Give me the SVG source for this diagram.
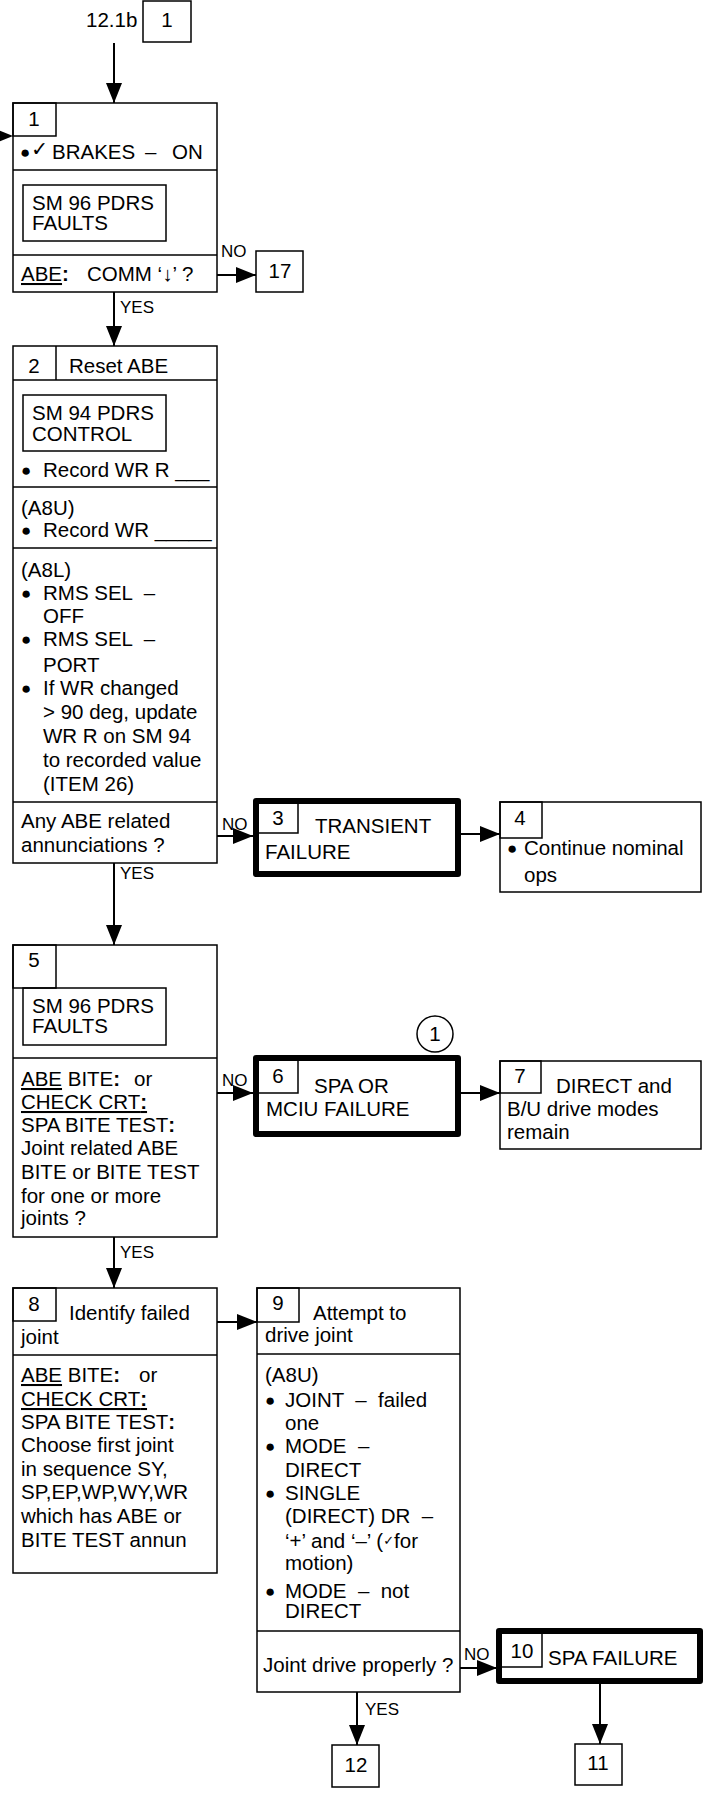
<svg xmlns="http://www.w3.org/2000/svg" width="703" height="1796" viewBox="0 0 703 1796">
<style>
text{font-family:"Liberation Sans",Arial,"DejaVu Sans",sans-serif;font-size:20.5px;fill:#000}
.c{text-anchor:middle}
.lb{font-size:17px}
.bl{font-size:17px}
.b{fill:none;stroke:#000;stroke-width:1.5}
.k{fill:none;stroke:#000;stroke-width:6;stroke-linejoin:round}
.w{fill:#fff;stroke:#000;stroke-width:1.5}
.ln{fill:none;stroke:#000;stroke-width:2}
.u{text-decoration:underline}
.bd{font-weight:bold}
.ck{font-family:"DejaVu Sans",sans-serif}
</style>
<defs>
<marker id="ah" markerUnits="userSpaceOnUse" markerWidth="20" markerHeight="16" refX="20" refY="8" orient="auto">
<path d="M0,0 L20,8 L0,16 z" fill="#000"/>
</marker>
</defs>

<g id="connectors">
<line class="ln" x1="114" y1="43" x2="114" y2="103" marker-end="url(#ah)"/>
<line class="ln" x1="0" y1="136" x2="6" y2="136"/>
<polygon points="-7,128 13,136 -7,144" fill="#000"/>
<line class="ln" x1="217" y1="275" x2="256" y2="275" marker-end="url(#ah)"/>
<line class="ln" x1="114" y1="292" x2="114" y2="346" marker-end="url(#ah)"/>
<line class="ln" x1="217" y1="836" x2="253" y2="836" marker-end="url(#ah)"/>
<line class="ln" x1="461" y1="834" x2="500" y2="834" marker-end="url(#ah)"/>
<line class="ln" x1="114" y1="863" x2="114" y2="945" marker-end="url(#ah)"/>
<line class="ln" x1="217" y1="1093" x2="253" y2="1093" marker-end="url(#ah)"/>
<line class="ln" x1="461" y1="1093" x2="500" y2="1093" marker-end="url(#ah)"/>
<line class="ln" x1="114" y1="1237" x2="114" y2="1288" marker-end="url(#ah)"/>
<line class="ln" x1="217" y1="1322" x2="257" y2="1322" marker-end="url(#ah)"/>
<line class="ln" x1="460" y1="1668" x2="497" y2="1668" marker-end="url(#ah)"/>
<line class="ln" x1="357" y1="1692" x2="357" y2="1745" marker-end="url(#ah)"/>
<line class="ln" x1="600" y1="1684" x2="600" y2="1744" marker-end="url(#ah)"/>
<text class="lb" x="221" y="257">NO</text>
<text class="lb" x="120" y="313">YES</text>
<text class="lb" x="222" y="830">NO</text>
<text class="lb" x="120" y="879">YES</text>
<text class="lb" x="222" y="1086">NO</text>
<text class="lb" x="120" y="1258">YES</text>
<text class="lb" x="464" y="1660">NO</text>
<text class="lb" x="365" y="1715">YES</text>
</g>

<g id="start">
<text x="86" y="27">12.1b</text>
<rect class="b" x="143" y="1" width="48" height="41"/>
<text class="c" x="167" y="27">1</text>
</g>

<g id="box1">
<rect class="b" x="13" y="103" width="204" height="189"/>
<rect class="b" x="13" y="103" width="43" height="33"/>
<text class="c" x="34" y="126">1</text>
<text class="bl" x="20" y="158">●</text>
<text class="ck" x="31" y="156" font-size="15">✓</text>
<text x="52" y="159">BRAKES<tspan x="145">–</tspan><tspan x="172">ON</tspan></text>
<line class="b" x1="13" y1="170" x2="217" y2="170"/>
<rect class="b" x="23" y="185" width="143" height="56"/>
<text x="32" y="210">SM 96 PDRS</text>
<text x="32" y="230">FAULTS</text>
<line class="b" x1="13" y1="255" x2="217" y2="255"/>
<text x="21" y="281"><tspan class="u">ABE</tspan><tspan class="bd">:</tspan><tspan x="87">COMM ‘↓’ ?</tspan></text>
</g>

<g id="box17">
<rect class="b" x="256" y="251" width="47" height="41"/>
<text class="c" x="280" y="278">17</text>
</g>

<g id="box2">
<rect class="b" x="13" y="346" width="204" height="517"/>
<line class="b" x1="56" y1="346" x2="56" y2="380"/>
<text class="c" x="34" y="373">2</text>
<text x="69" y="373">Reset ABE</text>
<line class="b" x1="13" y1="380" x2="217" y2="380"/>
<rect class="b" x="23" y="395" width="143" height="56"/>
<text x="32" y="420">SM 94 PDRS</text>
<text x="32" y="441">CONTROL</text>
<text class="bl" x="21" y="476">●</text>
<text x="43" y="477" xml:space="preserve">Record WR R ___</text>
<line class="b" x1="13" y1="487" x2="217" y2="487"/>
<text x="21" y="515">(A8U)</text>
<text class="bl" x="21" y="536">●</text>
<text x="43" y="537" xml:space="preserve">Record WR _____</text>
<line class="b" x1="13" y1="548" x2="217" y2="548"/>
<text x="21" y="577">(A8L)</text>
<text class="bl" x="21" y="599">●</text>
<text x="43" y="600" xml:space="preserve">RMS SEL  –</text>
<text x="43" y="623">OFF</text>
<text class="bl" x="21" y="645">●</text>
<text x="43" y="646" xml:space="preserve">RMS SEL  –</text>
<text x="43" y="672">PORT</text>
<text class="bl" x="21" y="694">●</text>
<text x="43" y="695">If WR changed</text>
<text x="43" y="719">&gt; 90 deg, update</text>
<text x="43" y="743">WR R on SM 94</text>
<text x="43" y="767">to recorded value</text>
<text x="43" y="791">(ITEM 26)</text>
<line class="b" x1="13" y1="802" x2="217" y2="802"/>
<text x="21" y="828">Any ABE related</text>
<text x="21" y="852">annunciations ?</text>
</g>

<g id="box3">
<rect class="k" x="256" y="801" width="202" height="73"/>
<path class="b" d="M298,801 V833 H256"/>
<text class="c" x="278" y="825">3</text>
<text x="315" y="833">TRANSIENT</text>
<text x="265" y="859">FAILURE</text>
</g>

<g id="box4">
<rect class="b" x="500" y="802" width="201" height="90"/>
<rect class="b" x="500" y="802" width="42" height="36"/>
<text class="c" x="520" y="825">4</text>
<text class="bl" x="507" y="854">●</text>
<text x="524" y="855">Continue nominal</text>
<text x="524" y="882">ops</text>
</g>

<g id="box5">
<rect class="b" x="13" y="945" width="204" height="292"/>
<rect class="b" x="13" y="945" width="43" height="43"/>
<text class="c" x="34" y="967">5</text>
<rect class="b" x="23" y="988" width="143" height="57"/>
<text x="32" y="1013">SM 96 PDRS</text>
<text x="32" y="1033">FAULTS</text>
<line class="b" x1="13" y1="1058" x2="217" y2="1058"/>
<text x="21" y="1086"><tspan class="u">ABE</tspan> BITE<tspan class="bd">:</tspan><tspan x="134">or</tspan></text>
<text x="21" y="1109" class="u">CHECK CRT<tspan class="bd">:</tspan></text>
<text x="21" y="1132">SPA BITE TEST<tspan class="bd">:</tspan></text>
<text x="21" y="1155">Joint related ABE</text>
<text x="21" y="1179">BITE or BITE TEST</text>
<text x="21" y="1203">for one or more</text>
<text x="21" y="1225">joints ?</text>
</g>

<g id="box6">
<rect class="k" x="256" y="1058" width="202" height="76"/>
<path class="b" d="M298,1058 V1093 H256"/>
<text class="c" x="278" y="1083">6</text>
<text x="314" y="1093">SPA OR</text>
<text x="266" y="1116">MCIU FAILURE</text>
<circle class="w" cx="435" cy="1034" r="18"/>
<text class="c" x="435" y="1041">1</text>
</g>

<g id="box7">
<rect class="b" x="500" y="1061" width="201" height="88"/>
<rect class="b" x="500" y="1061" width="41" height="32"/>
<text class="c" x="520" y="1083">7</text>
<text x="556" y="1093">DIRECT and</text>
<text x="507" y="1116">B/U drive modes</text>
<text x="507" y="1139">remain</text>
</g>

<g id="box8">
<rect class="b" x="13" y="1288" width="204" height="285"/>
<rect class="b" x="13" y="1288" width="43" height="33"/>
<text class="c" x="34" y="1311">8</text>
<text x="69" y="1320">Identify failed</text>
<text x="21" y="1344">joint</text>
<line class="b" x1="13" y1="1355" x2="217" y2="1355"/>
<text x="21" y="1382"><tspan class="u">ABE</tspan> BITE<tspan class="bd">:</tspan><tspan x="139">or</tspan></text>
<text x="21" y="1406" class="u">CHECK CRT<tspan class="bd">:</tspan></text>
<text x="21" y="1429">SPA BITE TEST<tspan class="bd">:</tspan></text>
<text x="21" y="1452">Choose first joint</text>
<text x="21" y="1476">in sequence SY,</text>
<text x="21" y="1499">SP,EP,WP,WY,WR</text>
<text x="21" y="1523">which has ABE or</text>
<text x="21" y="1547">BITE TEST annun</text>
</g>

<g id="box9">
<rect class="b" x="257" y="1288" width="203" height="404"/>
<rect class="b" x="257" y="1288" width="42" height="34"/>
<text class="c" x="278" y="1310">9</text>
<text x="313" y="1320">Attempt to</text>
<text x="265" y="1342">drive joint</text>
<line class="b" x1="257" y1="1354" x2="460" y2="1354"/>
<text x="265" y="1382">(A8U)</text>
<text class="bl" x="265" y="1406">●</text>
<text x="285" y="1407" xml:space="preserve">JOINT  –  failed</text>
<text x="285" y="1430">one</text>
<text class="bl" x="265" y="1452">●</text>
<text x="285" y="1453" xml:space="preserve">MODE  –</text>
<text x="285" y="1477">DIRECT</text>
<text class="bl" x="265" y="1499">●</text>
<text x="285" y="1500">SINGLE</text>
<text x="285" y="1523" xml:space="preserve">(DIRECT) DR  –</text>
<text x="285" y="1548">‘+’ and ‘–’ (<tspan class="ck" font-size="13" dy="-3">✓</tspan><tspan dy="3">for</tspan></text>
<text x="285" y="1570">motion)</text>
<text class="bl" x="265" y="1597">●</text>
<text x="285" y="1598" xml:space="preserve">MODE  –  not</text>
<text x="285" y="1618">DIRECT</text>
<line class="b" x1="257" y1="1631" x2="460" y2="1631"/>
<text x="263" y="1672">Joint drive properly ?</text>
</g>

<g id="box10">
<rect class="k" x="499" y="1631" width="201" height="50"/>
<path class="b" d="M542,1631 V1667 H499"/>
<text class="c" x="522" y="1658">10</text>
<text x="548" y="1665">SPA FAILURE</text>
</g>

<g id="box11">
<rect class="b" x="575" y="1744" width="47" height="41"/>
<text class="c" x="598" y="1770">11</text>
</g>

<g id="box12">
<rect class="b" x="332" y="1745" width="47" height="42"/>
<text class="c" x="356" y="1772">12</text>
</g>
</svg>
